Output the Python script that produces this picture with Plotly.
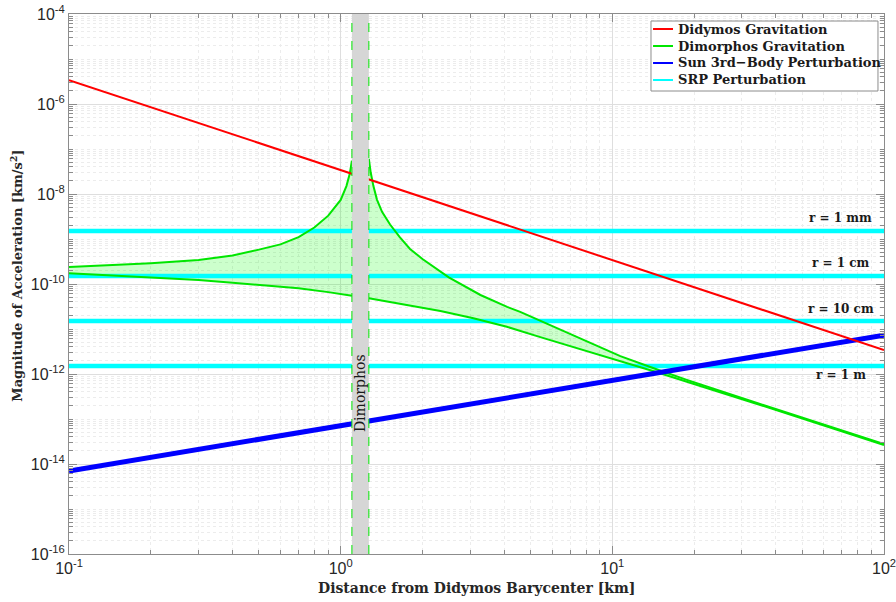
import plotly.graph_objects as go

# ---------------- data ----------------
didymos_x = [0.1, 100]
didymos_y = [3.4e-6, 3.4e-12]

sun_x = [0.1, 100]
sun_y = [7.0e-15, 7.3e-12]

srp_levels = [1.5e-9, 1.5e-10, 1.5e-11, 1.5e-12]
srp_labels = ["r = 1 mm", "r = 1 cm", "r = 10 cm", "r = 1 m"]
srp_label_y = [-8.54, -9.54, -10.55, -12.02]   # log10 positions of the labels

# Dimorphos gravitation, inner side (Didymos side of Dimorphos)
dim_left_up_x = [0.1, 0.2, 0.3, 0.4, 0.5, 0.6, 0.7, 0.8, 0.9, 1.0, 1.05, 1.08, 1.1]
dim_left_up_y = [2.4e-10, 2.9e-10, 3.4e-10, 4.3e-10, 5.8e-10, 7.6e-10, 1.1e-9,
                 1.8e-9, 3.3e-9, 7.4e-9, 1.5e-8, 2.8e-8, 5.5e-8]
dim_left_lo_x = [0.1, 0.2, 0.3, 0.4, 0.55, 0.7, 0.9, 1.1]
dim_left_lo_y = [1.73e-10, 1.40e-10, 1.22e-10, 1.07e-10, 9.2e-11, 8.0e-11, 6.6e-11, 5.5e-11]

# Dimorphos gravitation, outer side
dim_right_up_x = [1.27, 1.29, 1.32, 1.36, 1.42, 1.52, 1.65, 1.8, 2.0, 2.5, 3.27, 4.1,
                  4.58, 6.08, 8.07, 10.7, 14.2, 18.8, 33, 58, 100]
dim_right_up_y = [6.0e-8, 3.0e-8, 1.5e-8, 7.5e-9, 4.0e-9, 2.1e-9, 1.1e-9, 6.0e-10,
                  3.6e-10, 1.4e-10, 5.7e-11, 3.1e-11, 2.4e-11, 1.12e-11, 5.2e-12,
                  2.5e-12, 1.34e-12, 7.4e-13, 2.42e-13, 8.0e-14, 2.78e-14]
dim_right_lo_x = [1.27, 1.75, 2.33, 3.08, 4.09, 5.43, 8.07, 10.7, 14.2, 33, 100]
dim_right_lo_y = [4.8e-11, 3.4e-11, 2.5e-11, 1.73e-11, 1.12e-11, 6.6e-12, 3.2e-12,
                  1.9e-12, 1.15e-12, 2.3e-13, 2.65e-14]

dimorphos_band = [1.1, 1.27]

x_tickvals = [0.1, 1, 10, 100]
x_ticktext = ["10<sup>-1</sup>", "10<sup>0</sup>", "10<sup>1</sup>", "10<sup>2</sup>"]
y_tickvals = [1e-16, 1e-14, 1e-12, 1e-10, 1e-8, 1e-6, 1e-4]
y_ticktext = ["10<sup>-16</sup>", "10<sup>-14</sup>", "10<sup>-12</sup>", "10<sup>-10</sup>",
              "10<sup>-8</sup>", "10<sup>-6</sup>", "10<sup>-4</sup>"]

legend_names = ["Didymos Gravitation", "Dimorphos Gravitation",
                "Sun 3rd\u2212Body Perturbation", "SRP Perturbation"]

# ---------------- styles ----------------
RED = "#ff0000"
GREEN = "#00e600"
BLUE = "#0000ff"
CYAN = "#00ffff"
FILL = "rgba(0,255,0,0.2)"
SERIF = "DejaVu Serif"
SANS = "Liberation Sans"
legend_colors = [RED, GREEN, BLUE, CYAN]

fig = go.Figure()

# filled regions between the Dimorphos curves
for ux, uy, lx, ly in [(dim_left_up_x, dim_left_up_y, dim_left_lo_x, dim_left_lo_y),
                       (dim_right_up_x, dim_right_up_y, dim_right_lo_x, dim_right_lo_y)]:
    fig.add_trace(go.Scatter(x=ux + lx[::-1], y=uy + ly[::-1], mode="lines",
                             fill="toself", fillcolor=FILL, line=dict(width=0),
                             showlegend=False, hoverinfo="skip"))

# SRP lines
for lvl in srp_levels:
    fig.add_trace(go.Scatter(x=[0.1, 100], y=[lvl, lvl], mode="lines", name=legend_names[3],
                             line=dict(color=CYAN, width=4.5), showlegend=False))

# Dimorphos curves
for xs, ys in [(dim_left_up_x, dim_left_up_y), (dim_left_lo_x, dim_left_lo_y),
               (dim_right_up_x, dim_right_up_y), (dim_right_lo_x, dim_right_lo_y)]:
    fig.add_trace(go.Scatter(x=xs, y=ys, mode="lines", name=legend_names[1],
                             line=dict(color=GREEN, width=2), showlegend=False))

# Sun
fig.add_trace(go.Scatter(x=sun_x, y=sun_y, mode="lines", name=legend_names[2],
                         line=dict(color=BLUE, width=5), showlegend=False))
# Didymos
fig.add_trace(go.Scatter(x=didymos_x, y=didymos_y, mode="lines", name=legend_names[0],
                         line=dict(color=RED, width=2), showlegend=False))

# Dimorphos band
fig.add_shape(type="rect", xref="x", yref="paper", x0=dimorphos_band[0], x1=dimorphos_band[1],
              y0=0, y1=1, fillcolor="#d6d6d6", line=dict(width=0), layer="above")
for bx in dimorphos_band:
    fig.add_shape(type="line", xref="x", yref="paper", x0=bx, x1=bx, y0=0, y1=1,
                  line=dict(color=GREEN, width=1, dash="dash"), layer="above")

fig.add_annotation(x=0.0719, y=-12.42, xref="x", yref="y", text="Dimorphos",
                   textangle=-90, showarrow=False,
                   font=dict(family=SERIF, size=14, color="#1a1a1a"))

for lab, ly in zip(srp_labels, srp_label_y):
    fig.add_annotation(x=1.84, y=ly, xref="x", yref="y", text=lab, showarrow=False,
                       font=dict(family=SERIF, size=12, color="#1a1a1a", weight="bold"))

# legend box (drawn in paper coordinates, MATLAB style)
fig.add_shape(type="rect", xref="paper", yref="paper", x0=0.7141, x1=0.9926,
              y0=0.8574, y1=0.9870, fillcolor="white", line=dict(color="#8c8c8c", width=1),
              layer="above")
legend_rows = [0.9722, 0.9407, 0.9093, 0.8778]
for name, col, ry in zip(legend_names, legend_colors, legend_rows):
    fig.add_shape(type="line", xref="paper", yref="paper", x0=0.7166, x1=0.7411,
                  y0=ry, y1=ry, line=dict(color=col, width=2), layer="above")
    fig.add_annotation(x=0.7448, y=ry, xref="paper", yref="paper", text=name,
                       showarrow=False, xanchor="left", yanchor="middle",
                       font=dict(family=SERIF, size=13, color="#1a1a1a", weight="bold"))

# axis titles
fig.add_annotation(x=0.5, y=-0.063, xref="paper", yref="paper",
                   text="Distance from Didymos Barycenter [km]", showarrow=False,
                   xanchor="center", yanchor="middle",
                   font=dict(family=SERIF, size=14, color="#262626", weight="bold"))
fig.add_annotation(x=-0.064, y=0.515, xref="paper", yref="paper",
                   text="Magnitude of Acceleration [km/s<sup>2</sup>]", showarrow=False,
                   textangle=-90, xanchor="center", yanchor="middle",
                   font=dict(family=SERIF, size=13, color="#262626", weight="bold"))

x_minor = [m * 10.0 ** e for e in range(-1, 2) for m in range(2, 10)]
y_minor = [m * 10.0 ** e for e in range(-16, -4) for m in range(1, 10)
           if not (m == 1 and e % 2 == 0)]

axis_common = dict(type="log", automargin=False, showline=True, linecolor="#8c8c8c",
                   linewidth=1, mirror="allticks", ticks="inside", ticklen=8,
                   tickcolor="#8c8c8c", showgrid=True, gridcolor="#dedede", gridwidth=1,
                   zeroline=False, ticklabeloverflow="allow",
                   tickfont=dict(family=SANS, size=16, color="#262626"))

fig.update_xaxes(range=[-1, 2], tickmode="array", tickvals=x_tickvals, ticktext=x_ticktext,
                 minor=dict(tickmode="array", tickvals=x_minor, ticks="inside", ticklen=4,
                            tickcolor="#8c8c8c", showgrid=True, gridcolor="#ececec",
                            griddash="dot"),
                 **axis_common)
fig.update_yaxes(range=[-16, -4], tickmode="array", tickvals=y_tickvals, ticktext=y_ticktext,
                 minor=dict(tickmode="array", tickvals=y_minor, ticks="inside", ticklen=4,
                            tickcolor="#8c8c8c", showgrid=True, gridcolor="#ececec",
                            griddash="dot"),
                 **axis_common)

fig.update_layout(
    width=896, height=602,
    margin=dict(l=69, r=12, t=14, b=48, autoexpand=False),
    paper_bgcolor="white", plot_bgcolor="white",
    showlegend=False,
)

fig.write_html("out.html", config={"displayModeBar": False},
               post_script="document.body.style.margin='0';document.body.style.overflow='hidden';")
